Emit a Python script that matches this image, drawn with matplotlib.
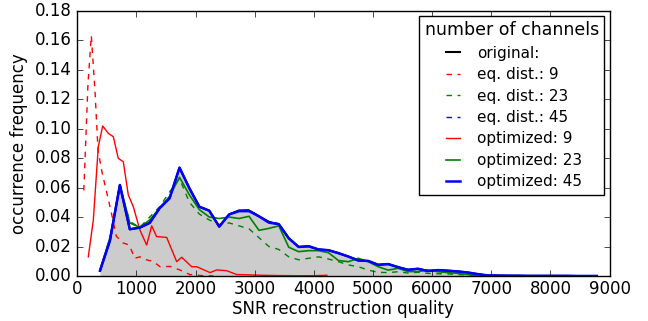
import matplotlib
matplotlib.use("Agg")
import matplotlib.pyplot as plt

# bin centres shared by the wide-bin histograms
snr = [384, 552, 720, 888, 1056, 1224, 1392, 1560, 1728, 1896, 2064, 2232, 2400,
       2568, 2736, 2904, 3072, 3240, 3408, 3576, 3744, 3912, 4080, 4248, 4416,
       4584, 4752, 4920, 5088, 5256, 5424, 5592, 5760, 5928, 6096, 6264, 6432,
       6600, 6768, 6936, 7104, 7272, 7440, 7608, 7776, 7944, 8112, 8280, 8448,
       8616, 8784]

original = [0.0036, 0.024, 0.0617, 0.0317, 0.0328, 0.036, 0.046, 0.0527, 0.0735,
            0.0595, 0.047, 0.0443, 0.0335, 0.0418, 0.0445, 0.0445, 0.0405, 0.0368,
            0.0350, 0.0256, 0.0197, 0.0202, 0.018, 0.0175, 0.0155, 0.0132, 0.0105,
            0.0102, 0.0076, 0.0081, 0.006, 0.0042, 0.0049, 0.0034, 0.004, 0.0036,
            0.0031, 0.0024, 0.0013, 0.0004, 0.0003, 0.0002, 0.0002, 0.0001, 0.0001,
            0.0001, 0.0001, 0.0001, 0.0, 0.0, 0.0]

eq45 = [0.0036, 0.024, 0.0617, 0.0317, 0.0328, 0.036, 0.046, 0.0527, 0.0735,
        0.0595, 0.047, 0.0443, 0.0335, 0.0418, 0.0440, 0.0450, 0.0405, 0.0365,
        0.0355, 0.0256, 0.0197, 0.0202, 0.018, 0.0175, 0.0155, 0.0132, 0.0105,
        0.0102, 0.0076, 0.0081, 0.006, 0.0042, 0.0049, 0.0034, 0.004, 0.0036,
        0.0031, 0.0024, 0.0013, 0.0004, 0.0003, 0.0002, 0.0002, 0.0001, 0.0001,
        0.0001, 0.0001, 0.0001, 0.0, 0.0, 0.0]

opt45 = [0.0036, 0.024, 0.0617, 0.0317, 0.0328, 0.036, 0.046, 0.0527, 0.0735,
         0.0595, 0.047, 0.0443, 0.0335, 0.0418, 0.0440, 0.0440, 0.0405, 0.0362,
         0.0352, 0.0256, 0.0197, 0.0202, 0.018, 0.0175, 0.0155, 0.0132, 0.0105,
         0.0102, 0.0076, 0.0081, 0.006, 0.0042, 0.0049, 0.0034, 0.004, 0.0036,
         0.0031, 0.0024, 0.0013, 0.0004, 0.0003, 0.0002, 0.0002, 0.0001, 0.0001,
         0.0001, 0.0001, 0.0001, 0.0, 0.0, 0.0]

eq23 = [0.004, 0.026, 0.060, 0.037, 0.033, 0.040, 0.047, 0.057, 0.066, 0.050,
        0.042, 0.038, 0.035, 0.036, 0.034, 0.032, 0.026, 0.020, 0.018, 0.013,
        0.011, 0.012, 0.013, 0.0115, 0.0097, 0.0075, 0.0063, 0.004, 0.0025,
        0.0023, 0.0029, 0.002, 0.0025, 0.0018, 0.0015, 0.0014, 0.001, 0.0008,
        0.0004, 0.0002]

opt23 = [0.004, 0.026, 0.062, 0.036, 0.033, 0.038, 0.046, 0.054, 0.067, 0.055,
         0.045, 0.040, 0.039, 0.040, 0.039, 0.0405, 0.031, 0.0323, 0.034, 0.0195,
         0.0165, 0.0172, 0.0172, 0.0158, 0.0105, 0.0097, 0.012, 0.0097, 0.0063,
         0.004, 0.0052, 0.003, 0.003, 0.004, 0.0029, 0.0023, 0.0018, 0.001,
         0.0004, 0.0001]

# 9 channels use their own (narrower) bins
snr_eq9 = [110, 180, 237, 300, 350, 420, 490, 575, 660, 770, 880, 970, 1060,
           1170, 1280, 1400, 1570, 1740, 1900, 2100, 2300]
eq9 = [0.058, 0.130, 0.163, 0.125, 0.0855, 0.070, 0.058, 0.043, 0.027, 0.0225,
       0.021, 0.012, 0.013, 0.011, 0.0099, 0.0063, 0.0065, 0.004, 0.001, 0.0003,
       0.0]

snr_opt9 = [186, 271, 355, 429, 524, 609, 693, 778, 862, 947, 1060, 1173, 1258,
            1342, 1511, 1681, 1765, 1934, 2019, 2244, 2357, 2526, 2695, 2900,
            3100, 3400, 3700, 4000, 4220]
opt9 = [0.013, 0.038, 0.0877, 0.1018, 0.0968, 0.0945, 0.0798, 0.0775, 0.055,
        0.047, 0.031, 0.021, 0.034, 0.0267, 0.0262, 0.0097, 0.0127, 0.0063,
        0.0063, 0.0023, 0.0041, 0.0036, 0.001, 0.0008, 0.0005, 0.0003, 0.0002,
        0.0002, 0.0005]

plt.style.use("classic")
fig = plt.figure(figsize=(6.48, 3.21), dpi=100, facecolor="white")
ax = fig.add_axes([0.1193, 0.1402, 0.8213, 0.8265])

dash = (4, 4)
ax.fill_between(snr, original, color="0.8", linewidth=0)
ax.plot(snr, original, "k-", lw=1.5, label="original:")
ax.plot(snr_eq9, eq9, "r--", lw=1, dashes=dash, label="eq. dist.: 9")
ax.plot(snr[:len(eq23)], eq23, "g--", lw=1, dashes=dash, label="eq. dist.: 23")
ax.plot(snr, eq45, "b--", lw=1, dashes=dash, label="eq. dist.: 45")
ax.plot(snr_opt9, opt9, "r-", lw=1, label="optimized: 9")
ax.plot(snr[:len(opt23)], opt23, "g-", lw=1.2, label="optimized: 23")
ax.plot(snr, opt45, "b-", lw=1.8, label="optimized: 45")

ax.set_xlim(0, 9000)
ax.set_ylim(0, 0.18)
ax.set_xlabel("SNR reconstruction quality", fontsize=12, labelpad=1)
ax.set_ylabel("occurrence frequency", fontsize=12)
ax.tick_params(labelsize=12)
ax.tick_params(axis="x", pad=3)

leg = ax.legend(title="number of channels", loc="upper right", fontsize=11,
                handlelength=1.5, frameon=True, fancybox=False,
                borderpad=0.35, labelspacing=0.42, borderaxespad=0.35)
leg.get_title().set_fontsize(12.5)

fig.savefig("out.png", dpi=100, facecolor="white")
